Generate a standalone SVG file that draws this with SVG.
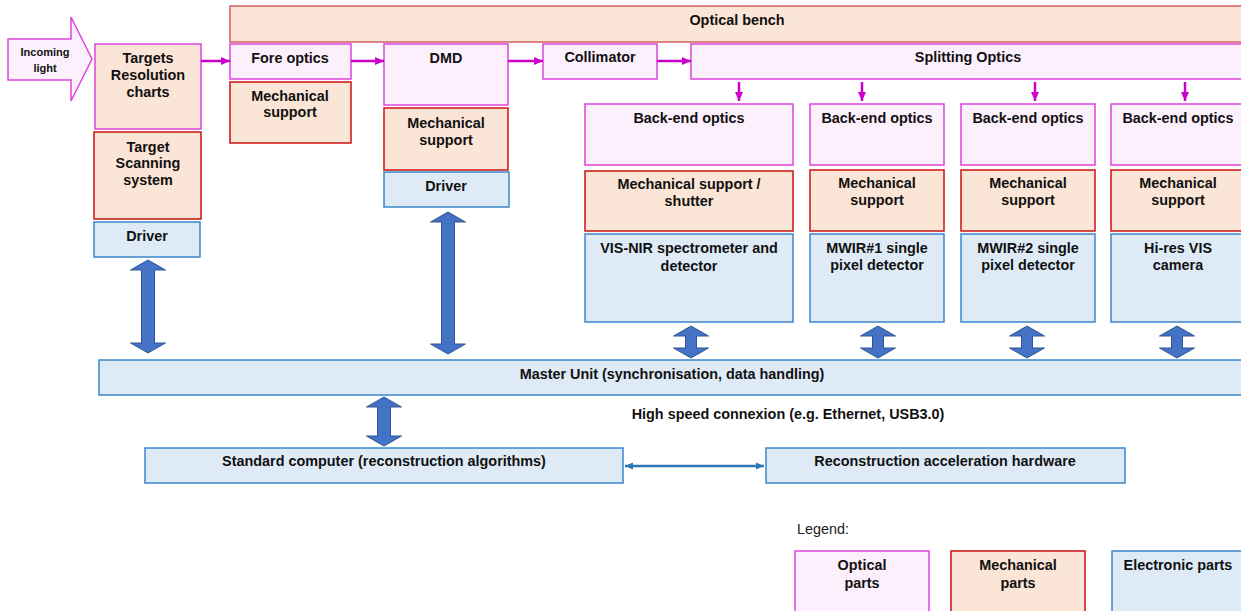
<svg xmlns="http://www.w3.org/2000/svg" width="1241" height="611" viewBox="0 0 1241 611">
<style>
.opt{fill:#FDF0FD;stroke:#DD44DD;stroke-width:1.5}
.mech{fill:#FBE5D6;stroke:#CC1010;stroke-width:1.5}
.mechopt{fill:#FBE5D6;stroke:#DD44DD;stroke-width:1.5}
.bench{fill:#FBE5D6;stroke:#D06060;stroke-width:1.5}
.elec{fill:#DEEBF7;stroke:#3A86CC;stroke-width:1.5}
text{font-family:"Liberation Sans",Arial,sans-serif;font-size:14.4px;font-weight:bold;fill:#111;text-anchor:middle}
.small{font-size:11px}
.legend{font-weight:normal;text-anchor:start;fill:#222}
.big{fill:#4472C4;stroke:#2F5597;stroke-width:1}
.mag{stroke:#CC00CC;stroke-width:2.5;fill:none}
.blu{stroke:#2E75B6;stroke-width:2.5;fill:none}
</style>
<defs>
<marker id="mh" markerUnits="userSpaceOnUse" markerWidth="10" markerHeight="10" refX="9" refY="5" orient="auto">
<path d="M0,1 L9,5 L0,9 Z" fill="#CC00CC"/>
</marker>
<marker id="bh" markerUnits="userSpaceOnUse" markerWidth="10" markerHeight="10" refX="8" refY="5" orient="auto-start-reverse">
<path d="M0,1.5 L8,5 L0,8.5 Z" fill="#2E75B6"/>
</marker>
</defs>

<g id="incoming-light">
<polygon class="opt" points="8,39 71,39 71,17 92,59 71,101 71,80 8,80"/>
<text class="small" x="45" y="56">Incoming</text>
<text class="small" x="45" y="72">light</text>
</g>

<g id="optical-bench">
<rect class="bench" x="230" y="6" width="1020" height="36"/>
<text x="737" y="25">Optical bench</text>
</g>

<g id="targets">
<rect class="mechopt" x="95" y="44" width="106" height="85"/>
<text x="148" y="63">Targets</text>
<text x="148" y="80">Resolution</text>
<text x="148" y="97">charts</text>
</g>
<g id="target-scanning">
<rect class="mech" x="94" y="132" width="107" height="87"/>
<text x="148" y="152">Target</text>
<text x="148" y="168">Scanning</text>
<text x="148" y="185">system</text>
</g>
<g id="driver-left">
<rect class="elec" x="94" y="222" width="106" height="35"/>
<text x="147" y="241">Driver</text>
</g>

<g id="fore-optics">
<rect class="opt" x="230" y="44" width="121" height="35"/>
<text x="290" y="63">Fore optics</text>
</g>
<g id="fore-mech">
<rect class="mech" x="230" y="82" width="121" height="61"/>
<text x="290" y="101">Mechanical</text>
<text x="290" y="117">support</text>
</g>

<g id="dmd">
<rect class="opt" x="384" y="44" width="124" height="61"/>
<text x="446" y="63">DMD</text>
</g>
<g id="dmd-mech">
<rect class="mech" x="384" y="108" width="124" height="62"/>
<text x="446" y="128">Mechanical</text>
<text x="446" y="145">support</text>
</g>
<g id="dmd-driver">
<rect class="elec" x="384" y="172" width="125" height="35"/>
<text x="446" y="191">Driver</text>
</g>

<g id="collimator">
<rect class="opt" x="543" y="44" width="114" height="35"/>
<text x="600" y="62">Collimator</text>
</g>

<g id="splitting-optics">
<rect class="opt" x="691" y="44" width="560" height="35"/>
<text x="968" y="62">Splitting Optics</text>
</g>

<g id="backend-1">
<rect class="opt" x="585" y="104" width="208" height="61"/>
<text x="689" y="123">Back-end optics</text>
</g>
<g id="backend-2">
<rect class="opt" x="810" y="104" width="134" height="61"/>
<text x="877" y="123">Back-end optics</text>
</g>
<g id="backend-3">
<rect class="opt" x="961" y="104" width="134" height="61"/>
<text x="1028" y="123">Back-end optics</text>
</g>
<g id="backend-4">
<rect class="opt" x="1111" y="104" width="140" height="61"/>
<text x="1178" y="123">Back-end optics</text>
</g>

<g id="mech-1">
<rect class="mech" x="585" y="171" width="208" height="60"/>
<text x="689" y="189">Mechanical support /</text>
<text x="689" y="206">shutter</text>
</g>
<g id="mech-2">
<rect class="mech" x="810" y="170" width="134" height="61"/>
<text x="877" y="188">Mechanical</text>
<text x="877" y="205">support</text>
</g>
<g id="mech-3">
<rect class="mech" x="961" y="170" width="134" height="61"/>
<text x="1028" y="188">Mechanical</text>
<text x="1028" y="205">support</text>
</g>
<g id="mech-4">
<rect class="mech" x="1111" y="170" width="140" height="61"/>
<text x="1178" y="188">Mechanical</text>
<text x="1178" y="205">support</text>
</g>

<g id="vis-nir">
<rect class="elec" x="585" y="234" width="208" height="88"/>
<text x="689" y="253">VIS-NIR spectrometer and</text>
<text x="689" y="271">detector</text>
</g>
<g id="mwir1">
<rect class="elec" x="810" y="234" width="134" height="88"/>
<text x="877" y="253">MWIR#1 single</text>
<text x="877" y="270">pixel detector</text>
</g>
<g id="mwir2">
<rect class="elec" x="961" y="234" width="134" height="88"/>
<text x="1028" y="253">MWIR#2 single</text>
<text x="1028" y="270">pixel detector</text>
</g>
<g id="hires-vis">
<rect class="elec" x="1111" y="234" width="140" height="88"/>
<text x="1178" y="253">Hi-res VIS</text>
<text x="1178" y="270">camera</text>
</g>

<g id="master-unit">
<rect class="elec" x="99" y="360" width="1152" height="35"/>
<text x="672" y="379">Master Unit (synchronisation, data handling)</text>
</g>

<g id="standard-computer">
<rect class="elec" x="145" y="448" width="478" height="35"/>
<text x="384" y="466">Standard computer (reconstruction algorithms)</text>
</g>
<g id="reconstruction-hw">
<rect class="elec" x="766" y="448" width="359" height="35"/>
<text x="945" y="466">Reconstruction acceleration hardware</text>
</g>

<g id="high-speed-label">
<text x="788" y="419">High speed connexion (e.g. Ethernet, USB3.0)</text>
</g>

<g id="legend">
<text class="legend" x="797" y="534">Legend:</text>
<rect class="opt" x="795" y="551" width="134" height="70"/>
<text x="862" y="570">Optical</text>
<text x="862" y="588">parts</text>
<rect class="mech" x="951" y="551" width="134" height="70"/>
<text x="1018" y="570">Mechanical</text>
<text x="1018" y="588">parts</text>
<rect class="elec" x="1112" y="551" width="140" height="70"/>
<text x="1178" y="570">Electronic parts</text>
</g>

<g id="connectors">
<line class="mag" x1="201" y1="61" x2="230" y2="61" marker-end="url(#mh)"/>
<line class="mag" x1="351" y1="61" x2="384" y2="61" marker-end="url(#mh)"/>
<line class="mag" x1="508" y1="61" x2="543" y2="61" marker-end="url(#mh)"/>
<line class="mag" x1="657" y1="61" x2="691" y2="61" marker-end="url(#mh)"/>
<line class="mag" x1="739" y1="82" x2="739" y2="101" marker-end="url(#mh)"/>
<line class="mag" x1="862" y1="82" x2="862" y2="101" marker-end="url(#mh)"/>
<line class="mag" x1="1035" y1="82" x2="1035" y2="101" marker-end="url(#mh)"/>
<line class="mag" x1="1185" y1="82" x2="1185" y2="101" marker-end="url(#mh)"/>

<polygon class="big" points="148,260 165.5,270 154.5,270 154.5,343 165.5,343 148,353 130.5,343 141.5,343 141.5,270 130.5,270"/>
<polygon class="big" points="448,212 465.5,222 454.5,222 454.5,344 465.5,344 448,354 430.5,344 441.5,344 441.5,222 430.5,222"/>
<polygon class="big" points="384,397 401.5,407 390.5,407 390.5,436 401.5,436 384,446 366.5,436 377.5,436 377.5,407 366.5,407"/>
<polygon class="big" points="691,326 708.5,336 696.5,336 696.5,348 708.5,348 691,358 673.5,348 685.5,348 685.5,336 673.5,336"/>
<polygon class="big" points="878,326 895.5,336 883.5,336 883.5,348 895.5,348 878,358 860.5,348 872.5,348 872.5,336 860.5,336"/>
<polygon class="big" points="1027,326 1044.5,336 1032.5,336 1032.5,348 1044.5,348 1027,358 1009.5,348 1021.5,348 1021.5,336 1009.5,336"/>
<polygon class="big" points="1177,326 1194.5,336 1182.5,336 1182.5,348 1194.5,348 1177,358 1159.5,348 1171.5,348 1171.5,336 1159.5,336"/>

<line class="blu" x1="625" y1="466" x2="764" y2="466" marker-start="url(#bh)" marker-end="url(#bh)"/>
</g>
</svg>
